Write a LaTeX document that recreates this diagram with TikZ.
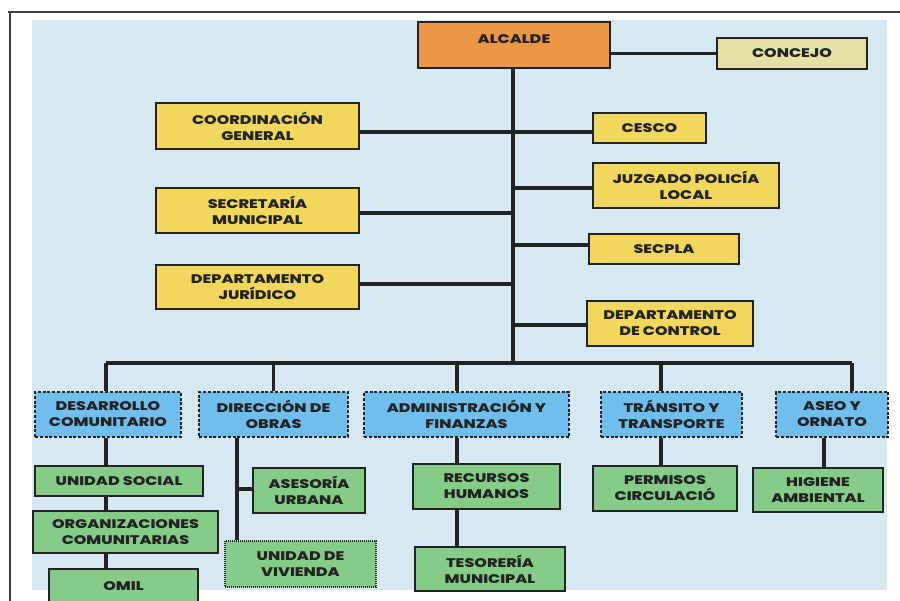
\documentclass[tikz,border=0pt]{standalone}
\usepackage{fontspec}
\newfontfamily\orgfont{Poppins ExtraBold}[FakeStretch=1.28]
\usetikzlibrary{backgrounds}
\definecolor{bgc}{RGB}{214,233,242}
\definecolor{yelc}{RGB}{241,215,92}
\definecolor{orac}{RGB}{236,150,72}
\definecolor{conc}{RGB}{228,224,166}
\definecolor{bluc}{RGB}{112,190,238}
\definecolor{grnc}{RGB}{132,204,136}
\definecolor{inkc}{RGB}{35,35,35}
\begin{document}
\begin{tikzpicture}[x=1pt,y=-1pt,
  box/.style={draw=inkc, line width=1.7pt, align=center, inner sep=0pt,
    text=inkc, font=\orgfont\fontsize{12.5}{16}\selectfont},
  yel/.style={box, fill=yelc},
  grn/.style={box, fill=grnc},
  blu/.style={box, fill=bluc, dash pattern=on 3pt off 1.8pt},
  dotbox/.style={box, fill=grnc, dash pattern=on 1pt off 1pt},
  wire/.style={line width=3.6pt, draw=inkc},
  frame/.style={line width=1.8pt, draw=black!75}]
\useasboundingbox (0,0) rectangle (900,601);
% top row
\node[box, fill=orac, minimum width=192pt, minimum height=46pt, text height=22pt, text depth=24pt] (alcalde) at (514,45) {ALCALDE};
\node[box, fill=conc, minimum width=150pt, minimum height=31pt] (concejo) at (792,53.5) {CONCEJO};
% left staff
\node[yel, minimum width=203pt, minimum height=46pt] (coord) at (257.5,126) {COORDINACIÓN\\GENERAL};
\node[yel, minimum width=203pt, minimum height=45pt] (secre) at (257.5,210.5) {SECRETARÍA\\MUNICIPAL};
\node[yel, minimum width=203pt, minimum height=44pt] (jurid) at (257.5,287) {DEPARTAMENTO\\JURÍDICO};
% right staff
\node[yel, minimum width=113pt, minimum height=30pt] (cesco) at (649.5,128) {CESCO};
\node[yel, minimum width=186pt, minimum height=45pt] (juzg) at (686,185.5) {JUZGADO POLICÍA\\LOCAL};
\node[yel, minimum width=150pt, minimum height=30pt] (secpla) at (664,249) {SECPLA};
\node[yel, minimum width=166pt, minimum height=45pt] (control) at (670,323.5) {DEPARTAMENTO\\DE CONTROL};
% directions
\node[blu, minimum width=146pt, minimum height=45pt] (desa) at (108,414.5) {DESARROLLO\\COMUNITARIO};
\node[blu, minimum width=149pt, minimum height=45pt] (obras) at (273.5,414.5) {DIRECCIÓN DE\\OBRAS};
\node[blu, minimum width=205pt, minimum height=45pt] (admin) at (466.5,414.5) {ADMINISTRACIÓN Y\\FINANZAS};
\node[blu, minimum width=141pt, minimum height=45pt] (trans) at (671.5,414.5) {TRÁNSITO Y\\TRANSPORTE};
\node[blu, minimum width=112pt, minimum height=45pt] (aseo) at (832,414.5) {ASEO Y\\ORNATO};
% units
\node[grn, minimum width=168pt, minimum height=30pt] (usoc) at (119,481) {UNIDAD SOCIAL};
\node[grn, minimum width=185pt, minimum height=42pt] (orgc) at (125.5,532) {ORGANIZACIONES\\COMUNITARIAS};
\node[grn, minimum width=149pt, minimum height=34pt] (omil) at (123.5,586) {OMIL};
\node[grn, minimum width=112pt, minimum height=45pt] (ases) at (309,490.5) {ASESORÍA\\URBANA};
\node[dotbox, minimum width=151pt, minimum height=46pt] (vivi) at (300.5,564) {UNIDAD DE\\VIVIENDA};
\node[grn, minimum width=147pt, minimum height=45pt] (rrhh) at (486.5,486.5) {RECURSOS\\HUMANOS};
\node[grn, minimum width=150pt, minimum height=44pt] (teso) at (490,569) {TESORERÍA\\MUNICIPAL};
\node[grn, minimum width=144pt, minimum height=45pt] (perm) at (665,488.5) {PERMISOS\\CIRCULACIÓ};
\node[grn, minimum width=130pt, minimum height=44pt] (higi) at (818,490) {HIGIENE\\AMBIENTAL};
% junction coordinates
\coordinate (tbus) at (513,363);
\coordinate (bl) at (106,363);
\coordinate (br) at (852,363);
\coordinate (r1) at (513,132);
\coordinate (r2) at (513,213);
\coordinate (r3) at (513,188);
\coordinate (r4) at (513,245);
\coordinate (r5) at (513,284);
\coordinate (r6) at (513,325);
\coordinate (dobra) at (237,0);
\coordinate (dases) at (237,489);
\coordinate (dadm) at (457,0);
\coordinate (dtr) at (661,0);
\coordinate (dhi) at (824,0);
\begin{scope}[on background layer]
  \fill[bgc] (32,20) rectangle (887,590);
  \draw[frame] (8,12) -- (900,12);
  \draw[frame] (10,12) -- (10,601);
  \draw[wire] (alcalde.south -| tbus) -- (tbus);
  \draw[wire] (concejo.west -| alcalde.east) -- (concejo.west);
  \draw[wire] (coord.east |- r1) -- (cesco.west |- r1);
  \draw[wire] (secre.east |- r2) -- (r2);
  \draw[wire] (r3) -- (juzg.west |- r3);
  \draw[wire] (r4) -- (secpla.west |- r4);
  \draw[wire] (jurid.east |- r5) -- (r5);
  \draw[wire] (r6) -- (control.west |- r6);
  \draw[wire] (bl) -- (br);
  \draw[wire] (bl) -- (desa.north -| bl);
  \draw[wire] (obras.north |- tbus) -- (obras.north);
  \draw[wire] (dadm |- tbus) -- (dadm |- admin.north);
  \draw[wire] (dtr |- tbus) -- (dtr |- trans.north);
  \draw[wire] (br) -- (aseo.north -| br);
  \draw[wire] (desa.south -| bl) -- (omil.north -| bl);
  \draw[wire] (dobra |- obras.south) -- (dobra |- vivi.north);
  \draw[wire] (dases) -- (ases.west |- dases);
  \draw[wire] (dadm |- admin.south) -- (dadm |- teso.north);
  \draw[wire] (dtr |- trans.south) -- (dtr |- perm.north);
  \draw[wire] (dhi |- aseo.south) -- (dhi |- higi.north);
\end{scope}
\end{tikzpicture}
\end{document}
